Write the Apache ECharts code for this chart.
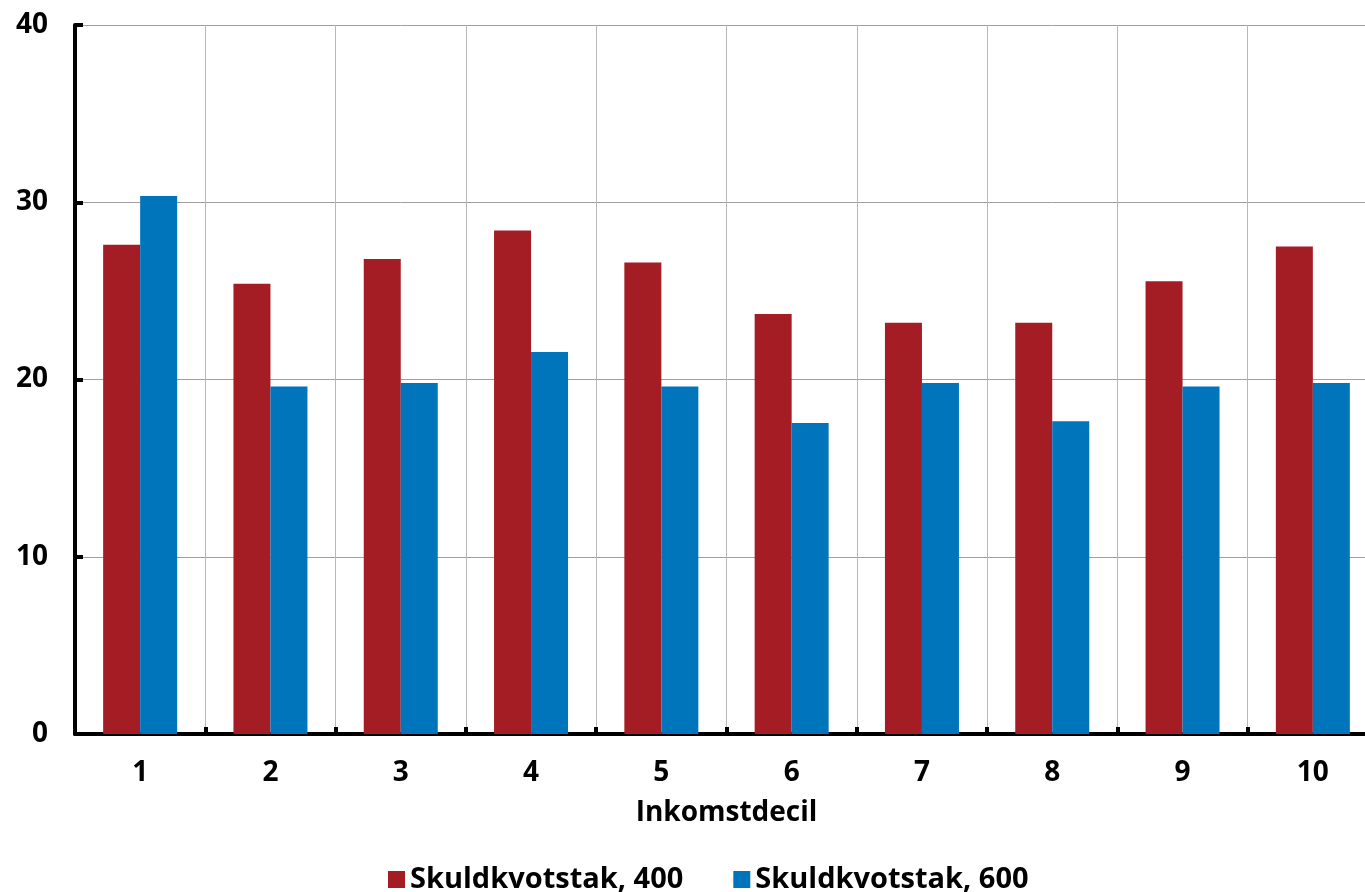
<!DOCTYPE html>
<html><head><meta charset="utf-8">
<script src="https://cdn.jsdelivr.net/npm/echarts@6/dist/echarts.min.js"></script>
<style>html,body{margin:0;padding:0;background:#fff;overflow:hidden;width:1365px;height:892px}#c{width:1380px;height:892px}</style>
</head><body><div id="c"></div>
<script>
var categories = ['1','2','3','4','5','6','7','8','9','10'];
var seriesNames = ['Skuldkvotstak, 400', 'Skuldkvotstak, 600'];
var values400 = [27.6, 25.4, 26.8, 28.4, 26.6, 23.7, 23.2, 23.2, 25.55, 27.5];
var values600 = [30.35, 19.6, 19.8, 21.55, 19.6, 17.55, 19.8, 17.65, 19.6, 19.8];
var yTicks = [0, 10, 20, 30, 40];

var font = 'Open Sans';
var chart = echarts.init(document.getElementById('c'));
chart.setOption({
  animation: false,
  textStyle: { fontFamily: font },
  grid: { left: 75, width: 1303, top: 25, height: 709 },
  legend: {
    top: 860, left: 383,
    itemWidth: 17, itemHeight: 17, itemGap: 50,
    icon: 'rect',
    textStyle: { fontSize: 29, fontWeight: 'bold', color: '#000', fontFamily: font },
    data: seriesNames
  },
  xAxis: {
    type: 'category', data: categories,
    name: 'Inkomstdecil', nameLocation: 'middle', nameGap: 65,
    nameTextStyle: { fontSize: 28, fontWeight: 'bold', color: '#000', fontFamily: font },
    axisLine: { lineStyle: { color: '#000', width: 4 } },
    axisTick: { show: true, inside: true, length: 7, lineStyle: { color: '#000', width: 4 } },
    axisLabel: { fontSize: 28, fontWeight: 'bold', color: '#000', margin: 25, fontFamily: font },
    splitLine: { show: true, lineStyle: { color: '#b8b8b8', width: 1 } }
  },
  yAxis: {
    type: 'value', min: yTicks[0], max: yTicks[yTicks.length-1], interval: 10,
    axisLine: { show: true, lineStyle: { color: '#000', width: 4 } },
    axisTick: { show: true, inside: true, length: 8, lineStyle: { color: '#000', width: 4 } },
    axisLabel: { fontSize: 28, fontWeight: 'bold', color: '#000', margin: 27, fontFamily: font },
    splitLine: { show: true, lineStyle: { color: '#a0a0a0', width: 1 } }
  },
  series: [
    { name: seriesNames[0], type: 'bar', data: values400, barWidth: 37, barGap: '0%',
      itemStyle: { color: '#A51D24' } },
    { name: seriesNames[1], type: 'bar', data: values600, barWidth: 37, barGap: '0%',
      itemStyle: { color: '#0075BC' } }
  ]
});
</script></body></html>
